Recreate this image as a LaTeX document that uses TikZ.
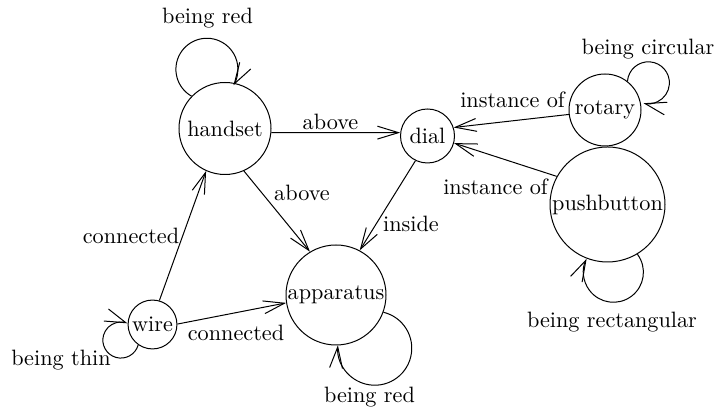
\documentclass[tikz,border=0pt]{standalone}
\usetikzlibrary{arrows.meta}
\begin{document}
\begin{tikzpicture}[x=0.45pt,y=0.45pt,
  every path/.style={line width=0.45pt},
  entity/.style={draw,circle,inner sep=0pt,line width=0.45pt},
  lbl/.style={inner sep=0pt},
  arr/.style={-{Straight Barb[length=9.5pt,width=5.8pt]}}]
\useasboundingbox (0,0) rectangle (720,415);
% nodes
\node[entity,minimum size=41.4pt] (handset) at (225,286.5) {handset};
\node[entity,minimum size=24.3pt] (dial) at (427.5,279) {dial};
\node[entity,minimum size=32.4pt] (rotary) at (605,305) {rotary};
\node[entity,minimum size=51.75pt] (pushbutton) at (607.5,210.5) {pushbutton};
\node[entity,minimum size=45pt] (apparatus) at (336,120) {apparatus};
\node[entity,minimum size=22pt] (wire) at (152.5,90.5) {wire};
% edges
\draw[arr] (handset.-5.6) -- (dial.173.5);
\draw[arr] (handset.-66.7) -- (apparatus.121);
\draw[arr] (dial.244.3) -- (apparatus.62);
\draw[arr] (rotary.187.9) -- (dial.18.8);
\draw[arr] (pushbutton.151.9) -- (dial.-15.4);
\draw[arr] (wire.74.5) -- (handset.246.7);
\draw[arr] (wire.1) -- (apparatus.189.9);
% loops
\draw[arr] (handset.136.4) arc[start angle=240.3,delta angle=-271.3,radius=31];
\draw[arr] (wire.235.3) arc[start angle=-15.6,delta angle=-275.7,radius=18];
\draw[arr] (apparatus.-20.2) arc[start angle=76.4,delta angle=-261,radius=37];
\draw[arr] (rotary.52.5) arc[start angle=175.7,delta angle=-279.1,radius=21];
\draw[arr] (pushbutton.-59.8) arc[start angle=37,delta angle=-243.6,radius=30];
% labels
\node[lbl] (lredtop) at (207.5,397) {being red};
\node[lbl] (labove1) at (330.5,293) {above};
\node[lbl] (labove2) at (302,222) {above};
\node[lbl] (lcirc) at (648,366) {being circular};
\node[lbl] (linst1) at (512.5,315) {instance of};
\node[lbl] (linst2) at (495.5,228) {instance of};
\node[lbl] (lrect) at (612,93) {being rectangular};
\node[lbl] (linside) at (411,191) {inside};
\node[lbl] (lredbot) at (369.5,18) {being red};
\node[lbl] (lthin) at (61,55) {being thin};
\node[lbl] (lconn1) at (131,179) {connected};
\node[lbl] (lconn2) at (236,82) {connected};
\end{tikzpicture}
\end{document}
